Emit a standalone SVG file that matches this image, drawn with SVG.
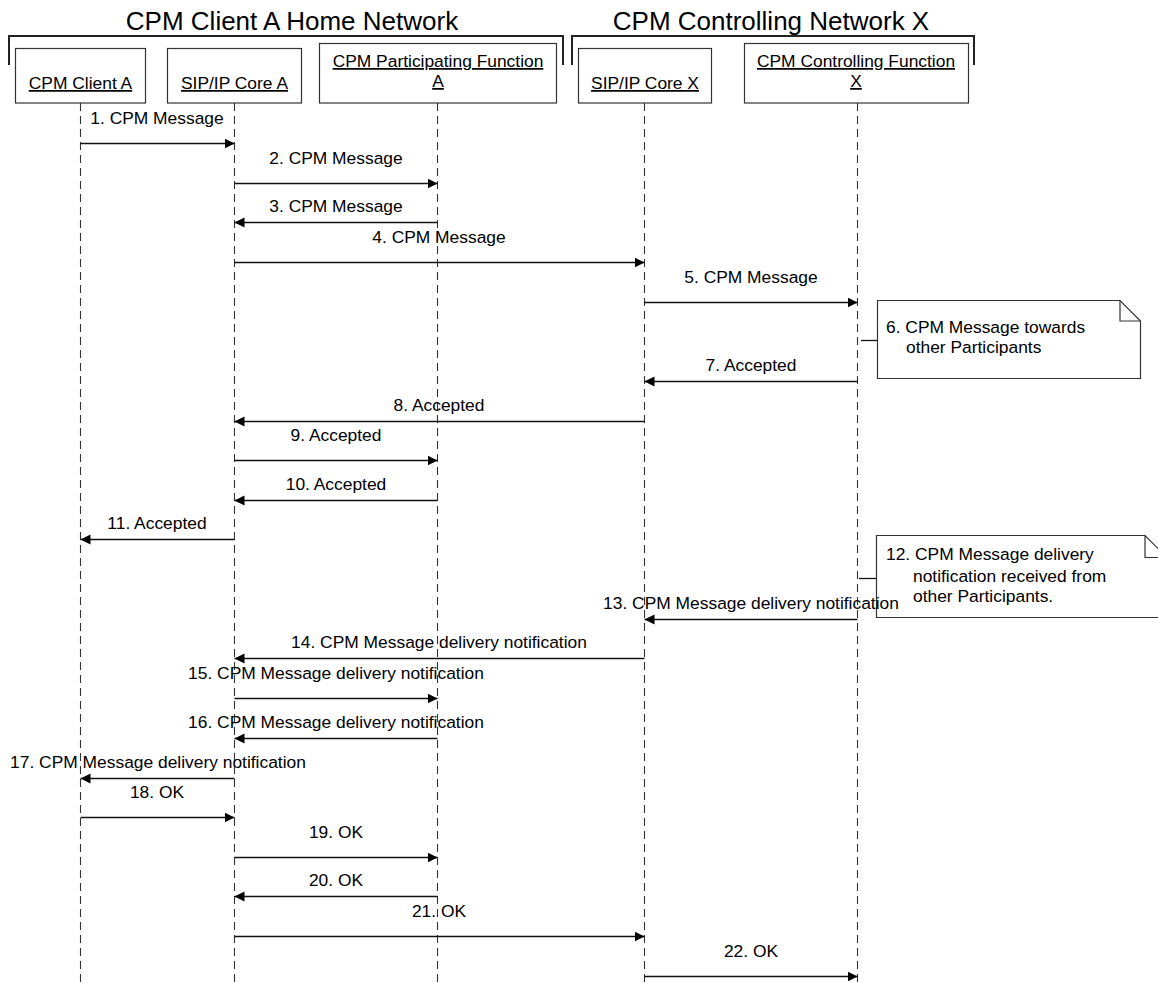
<svg xmlns="http://www.w3.org/2000/svg" width="1158" height="983" viewBox="0 0 1158 983">
<defs>
<style>
text{font-family:"Liberation Sans",Arial,sans-serif;fill:#000}
.title{font-size:26px;text-anchor:middle}
.lbl{font-size:17.4px;text-anchor:middle}
.nt{font-size:17.4px}
.nd{font-size:17.4px;text-anchor:middle;text-decoration:underline}
.box{fill:#fff;stroke:#333;stroke-width:1.2}
.brk{fill:none;stroke:#222;stroke-width:2}
.life{stroke:#333;stroke-width:1.1;stroke-dasharray:8,5;fill:none}
.msg{stroke:#111;stroke-width:1.3;fill:none;marker-end:url(#ah)}
.note{fill:#fff;stroke:#333;stroke-width:1.2}
.tick{stroke:#111;stroke-width:1.3}
</style>
<marker id="ah" markerUnits="userSpaceOnUse" markerWidth="11" markerHeight="11" refX="10" refY="5" orient="auto">
<path d="M0,0 L10,5 L0,10 Z" fill="#000"/>
</marker>
</defs>
<rect width="1158" height="983" fill="#fff"/>

<g id="network-a">
<text class="title" x="292" y="30">CPM Client A Home Network</text>
<path class="brk" d="M9,65 V36 H563 V65"/>
</g>
<g id="network-x">
<text class="title" x="771" y="30">CPM Controlling Network X</text>
<path class="brk" d="M572,65 V36 H974 V65"/>
</g>

<g id="client-a">
<line class="life" x1="80.5" y1="103" x2="80.5" y2="983"/>
<rect class="box" x="15.5" y="48.5" width="130" height="54.5"/>
<text class="nd" x="80.5" y="89">CPM Client A</text>
</g>
<g id="sip-core-a">
<line class="life" x1="234.5" y1="103" x2="234.5" y2="983"/>
<rect class="box" x="167.5" y="48.5" width="134" height="54.5"/>
<text class="nd" x="234.5" y="89">SIP/IP Core A</text>
</g>
<g id="participating-a">
<line class="life" x1="437.5" y1="103" x2="437.5" y2="983"/>
<rect class="box" x="319.5" y="43.5" width="237" height="59.5"/>
<text class="nd" x="438" y="67">CPM Participating Function</text>
<text class="nd" x="438" y="87">A</text>
</g>
<g id="sip-core-x">
<line class="life" x1="644.5" y1="103" x2="644.5" y2="983"/>
<rect class="box" x="578.5" y="48.5" width="133" height="54.5"/>
<text class="nd" x="645" y="89">SIP/IP Core X</text>
</g>
<g id="controlling-x">
<line class="life" x1="857.5" y1="103" x2="857.5" y2="983"/>
<rect class="box" x="744.5" y="43.5" width="224" height="59.5"/>
<text class="nd" x="856" y="67">CPM Controlling Function</text>
<text class="nd" x="856" y="87">X</text>
</g>

<g id="note-6">
<line class="tick" x1="861" y1="340.5" x2="877" y2="340.5"/>
<path class="note" d="M877.5,300.5 H1120 L1140.5,321 V378.5 H877.5 Z"/>
<path fill="none" stroke="#333" stroke-width="1.2" d="M1120,300.5 V321 H1140.5"/>
<text class="nt" x="886" y="333">6. CPM Message towards</text>
<text class="nt" x="906" y="353">other Participants</text>
</g>
<g id="note-12">
<line class="tick" x1="859" y1="578.5" x2="876" y2="578.5"/>
<path class="note" d="M876.5,535.5 H1145 L1167,557.5 V617.5 H876.5 Z"/>
<path fill="none" stroke="#333" stroke-width="1.2" d="M1145,535.5 V557.5 H1167"/>
<text class="nt" x="886" y="560">12. CPM Message delivery</text>
<text class="nt" x="913" y="582">notification received from</text>
<text class="nt" x="913" y="602">other Participants.</text>
</g>

<g id="connectors">
<line class="msg" x1="80.5" y1="143.5" x2="234.5" y2="143.5"/>
<line class="msg" x1="234.5" y1="183.5" x2="437.5" y2="183.5"/>
<line class="msg" x1="437.5" y1="222.5" x2="234.5" y2="222.5"/>
<line class="msg" x1="234.5" y1="262.5" x2="644.5" y2="262.5"/>
<line class="msg" x1="644.5" y1="302.5" x2="857.5" y2="302.5"/>
<line class="msg" x1="857.5" y1="381.5" x2="644.5" y2="381.5"/>
<line class="msg" x1="644.5" y1="421.5" x2="234.5" y2="421.5"/>
<line class="msg" x1="234.5" y1="460.5" x2="437.5" y2="460.5"/>
<line class="msg" x1="437.5" y1="500.5" x2="234.5" y2="500.5"/>
<line class="msg" x1="234.5" y1="539.5" x2="80.5" y2="539.5"/>
<line class="msg" x1="857.5" y1="619.5" x2="644.5" y2="619.5"/>
<line class="msg" x1="644.5" y1="658.5" x2="234.5" y2="658.5"/>
<line class="msg" x1="234.5" y1="698.5" x2="437.5" y2="698.5"/>
<line class="msg" x1="437.5" y1="738.5" x2="234.5" y2="738.5"/>
<line class="msg" x1="234.5" y1="778.5" x2="80.5" y2="778.5"/>
<line class="msg" x1="80.5" y1="817.5" x2="234.5" y2="817.5"/>
<line class="msg" x1="234.5" y1="857.5" x2="437.5" y2="857.5"/>
<line class="msg" x1="437.5" y1="896.5" x2="234.5" y2="896.5"/>
<line class="msg" x1="234.5" y1="936.5" x2="644.5" y2="936.5"/>
<line class="msg" x1="644.5" y1="976.5" x2="857.5" y2="976.5"/>

<text class="lbl" x="157" y="124">1. CPM Message</text>
<text class="lbl" x="336" y="164">2. CPM Message</text>
<text class="lbl" x="336" y="212">3. CPM Message</text>
<text class="lbl" x="439" y="243">4. CPM Message</text>
<text class="lbl" x="751" y="283">5. CPM Message</text>
<text class="lbl" x="751" y="371">7. Accepted</text>
<text class="lbl" x="439" y="411">8. Accepted</text>
<text class="lbl" x="336" y="441">9. Accepted</text>
<text class="lbl" x="336" y="490">10. Accepted</text>
<text class="lbl" x="157" y="529">11. Accepted</text>
<text class="lbl" x="751" y="609">13. CPM Message delivery notification</text>
<text class="lbl" x="439" y="648">14. CPM Message delivery notification</text>
<text class="lbl" x="336" y="679">15. CPM Message delivery notification</text>
<text class="lbl" x="336" y="728">16. CPM Message delivery notification</text>
<text class="lbl" x="158" y="768">17. CPM Message delivery notification</text>
<text class="lbl" x="157" y="798">18. OK</text>
<text class="lbl" x="336" y="838">19. OK</text>
<text class="lbl" x="336" y="886">20. OK</text>
<text class="lbl" x="439" y="917">21. OK</text>
<text class="lbl" x="751" y="957">22. OK</text>
</g>
</svg>
